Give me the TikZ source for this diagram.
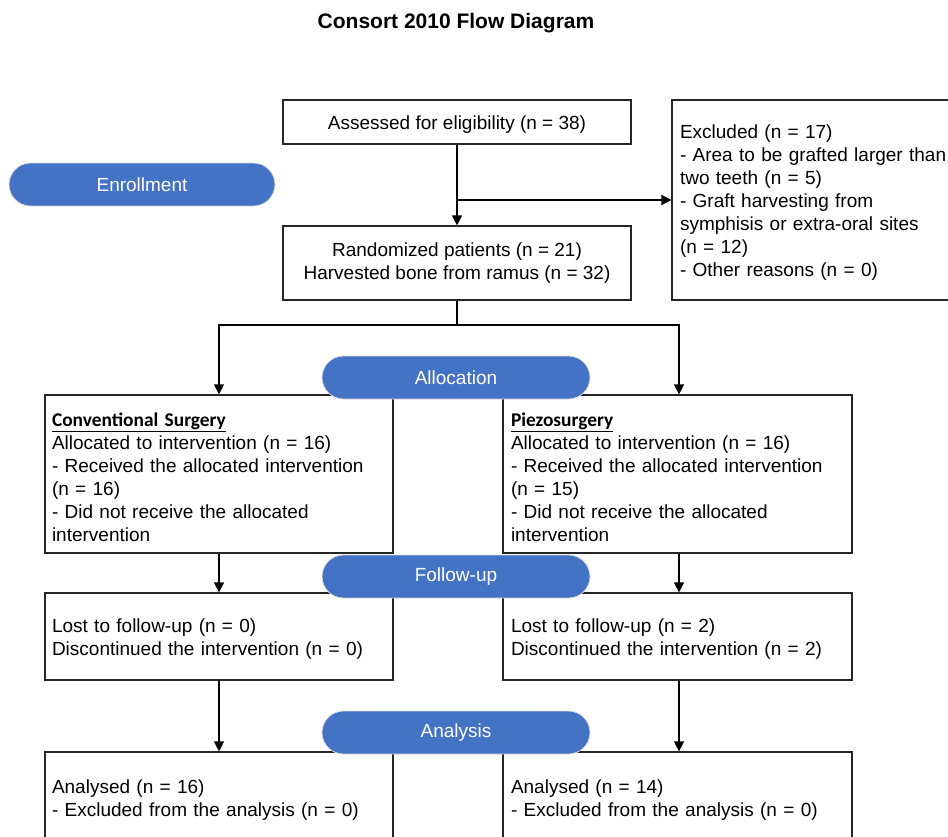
\documentclass[tikz,border=0pt]{standalone}
\usepackage{fontspec}
\setmainfont{Liberation Sans}
\newfontfamily\calfont{Carlito}
\usetikzlibrary{arrows.meta}
\definecolor{pillblue}{HTML}{4472C4}
\begin{document}
\begin{tikzpicture}[x=1pt,y=-1pt,
  box/.style={draw=black!85,line width=1.2pt,inner ysep=0pt,
    font=\fontsize{19}{23}\selectfont,execute at begin node={\rule{0pt}{19.5pt}}},
  lbox/.style={box,inner xsep=7pt,text width=334pt,align=left},
  rbox/.style={box,inner xsep=8pt,text width=333pt,align=left},
  pill/.style={fill=pillblue,draw=black!15,line width=0.8pt,rounded corners=21.5pt,
    minimum height=43pt,text=white,font=\fontsize{19}{23}\selectfont},
  arr/.style={-{Triangle[length=10pt,width=10pt]},line width=1.2pt},
  con/.style={line width=1.2pt}]
\useasboundingbox (0,0) rectangle (948,836);
\node[font=\bfseries\fontsize{21}{25}\selectfont] (title) at (456,23) {Consort 2010 Flow Diagram};
\node[box,minimum width=348pt,minimum height=44pt] (assess) at (457,122) {Assessed for eligibility (n = 38)};
\node[box,minimum width=348pt,minimum height=74pt,align=center] (rand) at (457,263) {Randomized patients (n = 21)\\Harvested bone from ramus (n = 32)};
\node[box,inner xsep=8pt,text width=274pt,minimum height=200pt,align=left] (excl) at (817,200) {Excluded (n = 17)\\- Area to be grafted larger than\\two teeth (n = 5)\\- Graft harvesting from\\symphisis or extra-oral sites\\(n = 12)\\- Other reasons (n = 0)};
\node[lbox,minimum height=158pt] (lalloc) at (219,474) {{\calfont\bfseries\fontsize{19.4}{23}\selectfont\underline{Conventional Surgery}}\\Allocated to intervention (n = 16)\\- Received the allocated intervention\\(n = 16)\\- Did not receive the allocated\\intervention};
\node[rbox,minimum height=158pt] (ralloc) at (677.5,474) {{\calfont\bfseries\fontsize{19.4}{23}\selectfont\underline{Piezosurgery}}\\Allocated to intervention (n = 16)\\- Received the allocated intervention\\(n = 15)\\- Did not receive the allocated\\intervention};
\node[lbox,minimum height=87pt] (lfu) at (219,636.5) {Lost to follow-up (n = 0)\\Discontinued the intervention (n = 0)};
\node[rbox,minimum height=87pt] (rfu) at (677.5,636.5) {Lost to follow-up (n = 2)\\Discontinued the intervention (n = 2)};
\node[lbox,minimum height=91pt] (lan) at (219,797.5) {Analysed (n = 16)\\- Excluded from the analysis (n = 0)};
\node[rbox,minimum height=91pt] (ran) at (677.5,797.5) {Analysed (n = 14)\\- Excluded from the analysis (n = 0)};
\node[pill,minimum width=266pt] (enroll) at (142,184.5) {Enrollment};
\node[pill,minimum width=268pt] (alloc) at (456,377.5) {Allocation};
\node[pill,minimum width=268pt] (fu) at (456,576.5) {Follow-up};
\node[pill,minimum width=268pt] (an) at (456,732.5) {Analysis};
\draw[arr] (assess.south) -- (rand.north);
\coordinate (br) at (assess.south |- excl.west);
\draw[arr] (br) -- (excl.west);
\coordinate (split) at (457,325);
\draw[con] (rand.south) -- (split);
\draw[arr] (split) -| (lalloc.north);
\draw[arr] (split) -| ([xshift=1.5pt]ralloc.north);
\draw[arr] (lalloc.south) -- (lfu.north);
\draw[arr] ([xshift=1.5pt]ralloc.south) -- ([xshift=1.5pt]rfu.north);
\draw[arr] (lfu.south) -- (lan.north);
\draw[arr] ([xshift=1.5pt]rfu.south) -- ([xshift=1.5pt]ran.north);
\end{tikzpicture}
\end{document}
